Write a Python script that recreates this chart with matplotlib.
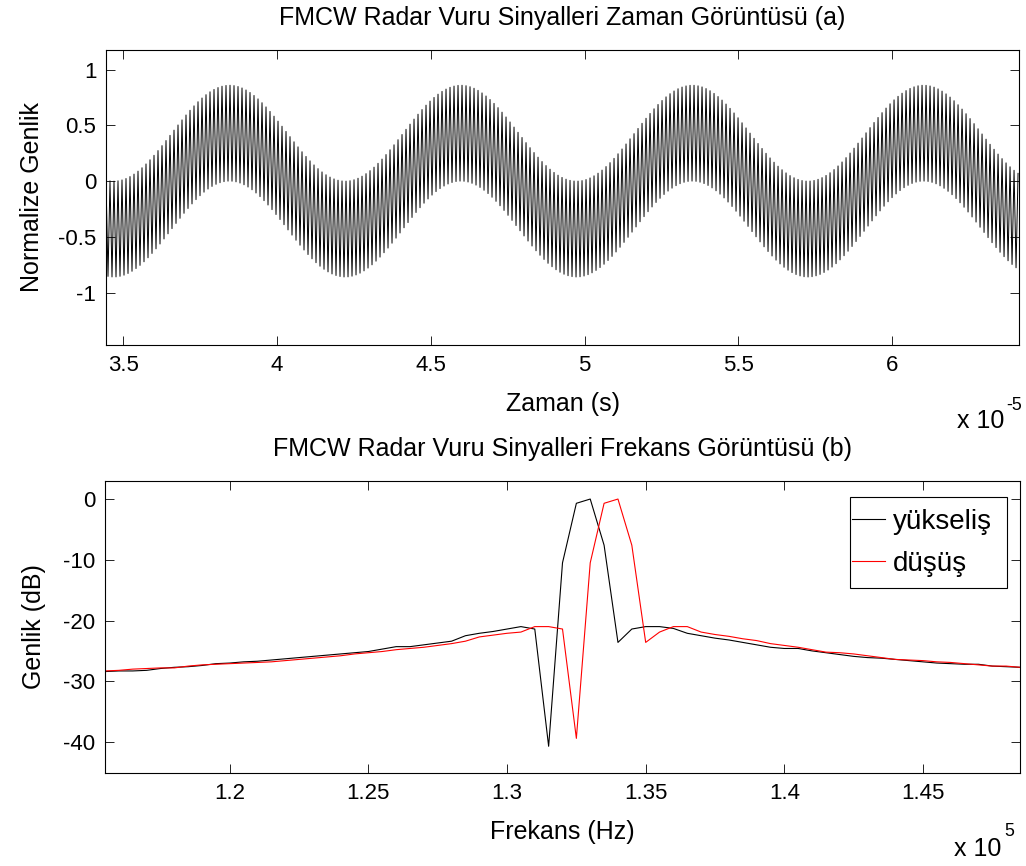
import numpy as np
import matplotlib
matplotlib.use("Agg")
import matplotlib.pyplot as plt
from matplotlib.patches import Rectangle

plt.rcParams['font.family'] = ['Liberation Sans', 'DejaVu Sans']
plt.rcParams['axes.unicode_minus'] = False

# ---------------- Top panel (time view) : values ----------------
time_start = 3.4446e-5          # s, left edge of the record
time_end = 6.4117e-5            # s, right edge of the record
sample_step = 6.5e-8            # s, spacing of plotted samples (~2 px)
beat_freq = 1.33e5              # Hz, slow beat component (one period = 0.752e-5 s)
beat_peak_time = 3.846e-5       # s, first crest of the slow component
beat_amp = 0.43                 # normalized amplitude of slow component
fast_freq = 7.6923e6            # Hz, fast component (alternates every sample)
fast_amp = 0.43                 # normalized amplitude of fast component

time_ticks = [3.5, 4, 4.5, 5, 5.5, 6]
time_tick_labels = ['3.5', '4', '4.5', '5', '5.5', '6']
amp_ticks = [-1, -0.5, 0, 0.5, 1]
amp_tick_labels = ['-1', '-0.5', '0', '0.5', '1']

# ---------------- Bottom panel (frequency view) : values ----------------
freq_e5 = [1.155, 1.160, 1.165, 1.170, 1.175, 1.180, 1.185, 1.190, 1.195, 1.200,
           1.205, 1.210, 1.215, 1.220, 1.225, 1.230, 1.235, 1.240, 1.245, 1.250,
           1.255, 1.260, 1.265, 1.270, 1.275, 1.280, 1.285, 1.290, 1.295, 1.300,
           1.305, 1.310, 1.315, 1.320, 1.325, 1.330, 1.335, 1.340, 1.345, 1.350,
           1.355, 1.360, 1.365, 1.370, 1.375, 1.380, 1.385, 1.390, 1.395, 1.400,
           1.405, 1.410, 1.415, 1.420, 1.425, 1.430, 1.435, 1.440, 1.445, 1.450,
           1.455, 1.460, 1.465, 1.470, 1.475, 1.480, 1.485]
rise_db = [-28.4, -28.3, -28.3, -28.2, -27.9, -27.7, -27.6, -27.4, -27.1, -27.0,
           -26.8, -26.7, -26.5, -26.3, -26.1, -25.9, -25.7, -25.5, -25.3, -25.1,
           -24.7, -24.3, -24.3, -24.0, -23.7, -23.4, -22.5, -22.1, -21.8, -21.4,
           -21.0, -21.4, -40.7, -10.5, -0.7, 0.0, -7.6, -23.6, -21.4, -21.0,
           -21.0, -21.3, -22.1, -22.5, -22.9, -23.2, -23.6, -24.0, -24.4, -24.6,
           -24.6, -25.0, -25.3, -25.6, -25.9, -26.1, -26.2, -26.4, -26.6, -26.8,
           -27.0, -27.1, -27.2, -27.2, -27.5, -27.6, -27.7]
fall_db = [-28.3, -28.2, -28.0, -27.9, -27.8, -27.8, -27.5, -27.3, -27.2, -27.1,
           -27.0, -26.9, -26.8, -26.6, -26.4, -26.2, -26.0, -25.8, -25.5, -25.3,
           -25.1, -24.8, -24.6, -24.4, -24.1, -23.8, -23.4, -22.7, -22.4, -22.1,
           -21.9, -21.0, -21.0, -21.4, -39.4, -10.5, -0.7, 0.0, -7.6, -23.6,
           -21.9, -21.0, -21.0, -21.9, -22.3, -22.6, -23.0, -23.3, -23.8, -24.1,
           -24.4, -24.8, -25.2, -25.3, -25.5, -25.8, -26.1, -26.4, -26.5, -26.6,
           -26.8, -26.9, -27.1, -27.3, -27.5, -27.5, -27.7]
freq_ticks = [1.2, 1.25, 1.3, 1.35, 1.4, 1.45]
freq_tick_labels = ['1.2', '1.25', '1.3', '1.35', '1.4', '1.45']
db_ticks = [-40, -30, -20, -10, 0]
db_tick_labels = ['-40', '-30', '-20', '-10', '0']
series_names = ['yükseliş', 'düşüş']
series_colors = ['black', 'red']

FS_TICK = 16
FS_LABEL = 18
FS_LEG = 20

W, H = 1026, 866
fig = plt.figure(figsize=(W / 100, H / 100), dpi=100)

def px_axes(left, top, right, bottom):
    return fig.add_axes([left / W, 1 - bottom / H, (right - left) / W, (bottom - top) / H])

def style(ax):
    ax.tick_params(direction='in', top=True, right=True, length=6.5, width=0.6,
                   labelsize=FS_TICK, pad=7, colors='black')
    for s in ax.spines.values():
        s.set_linewidth(0.8)

# ---- top axes
ax1 = px_axes(106, 50, 1019, 345)
t = np.arange(time_start, time_end, sample_step)
sig = beat_amp * np.cos(2 * np.pi * beat_freq * (t - beat_peak_time)) + \
      fast_amp * np.cos(2 * np.pi * fast_freq * (t - time_start))
ax1.plot(t * 1e5, sig, color='black', lw=0.7)
ax1.set_xlim(time_start * 1e5, time_end * 1e5)
ax1.set_ylim(-1.47, 1.176)
ax1.set_xticks(time_ticks)
ax1.set_xticklabels(time_tick_labels)
ax1.set_yticks(amp_ticks)
ax1.set_yticklabels(amp_tick_labels)
style(ax1)
ax1.set_title('FMCW Radar Vuru Sinyalleri Zaman Görüntüsü (a)', fontsize=FS_LABEL, pad=18)
ax1.set_xlabel('Zaman (s)', fontsize=FS_LABEL, labelpad=12)
ax1.set_ylabel('Normalize Genlik', fontsize=FS_LABEL, labelpad=10)
fig.text(1004 / W, 1 - 421 / H, 'x 10', fontsize=FS_LABEL, va='center', ha='right')
fig.text(1006 / W, 1 - 405 / H, '-5', fontsize=FS_TICK * 0.8, va='center', ha='left')

# ---- bottom axes
AX2_L, AX2_T, AX2_R, AX2_B = 105, 481, 1020, 773
ax2 = px_axes(AX2_L, AX2_T, AX2_R, AX2_B)
ax2.plot(freq_e5, rise_db, color=series_colors[0], lw=0.8, label=series_names[0])
ax2.plot(freq_e5, fall_db, color=series_colors[1], lw=0.8, label=series_names[1])
ax2.set_xlim(1.155, 1.485)
ax2.set_ylim(-45.1, 2.97)
ax2.set_xticks(freq_ticks)
ax2.set_xticklabels(freq_tick_labels)
ax2.set_yticks(db_ticks)
ax2.set_yticklabels(db_tick_labels)
style(ax2)
ax2.set_title('FMCW Radar Vuru Sinyalleri Frekans Görüntüsü (b)', fontsize=FS_LABEL, pad=18)
ax2.set_xlabel('Frekans (Hz)', fontsize=FS_LABEL, labelpad=12)
ax2.set_ylabel('Genlik (dB)', fontsize=FS_LABEL, labelpad=12)
fig.text(1001 / W, 1 - 849 / H, 'x 10', fontsize=FS_LABEL, va='center', ha='right')
fig.text(1004 / W, 1 - 832 / H, '5', fontsize=FS_TICK * 0.8, va='center', ha='left')

def ax2_coords(px, py):
    return ((px - AX2_L) / (AX2_R - AX2_L), (AX2_B - py) / (AX2_B - AX2_T))

# legend frame (MATLAB style box)
x0, y0 = ax2_coords(850, 588)
x1, y1 = ax2_coords(1007, 497)
ax2.add_patch(Rectangle((x0, y0), x1 - x0, y1 - y0, transform=ax2.transAxes,
                        facecolor='white', edgecolor='black', lw=0.8, zorder=5))
lx, ly = ax2_coords(852, 543)
leg = ax2.legend(loc='center left', bbox_to_anchor=(lx, ly), fontsize=FS_LEG,
                 frameon=False, handlelength=1.19, handletextpad=0.29, borderpad=0,
                 labelspacing=0.58, borderaxespad=0)
leg.set_zorder(6)

fig.savefig('out.png', dpi=100)
